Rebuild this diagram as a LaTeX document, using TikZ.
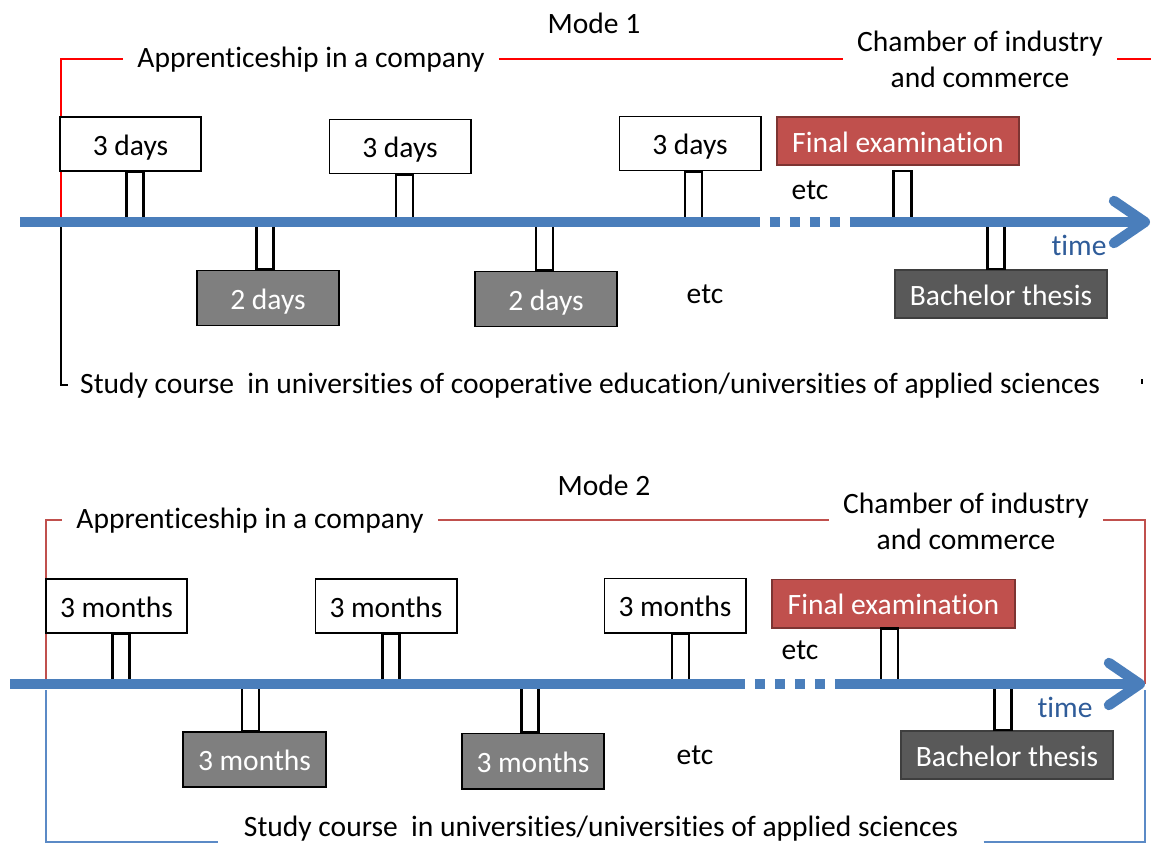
\documentclass[tikz,border=0pt]{standalone}
\usepackage{fontspec}
\setmainfont{Carlito}[Ligatures=NoCommon]
\usetikzlibrary{arrows.meta,calc}
\definecolor{tblue}{HTML}{4A7EBB}
\definecolor{lblue}{HTML}{5B8AC6}
\definecolor{exred}{HTML}{C0504D}
\definecolor{thgray}{HTML}{595959}
\definecolor{midgray}{HTML}{7F7F7F}
\definecolor{timeblue}{HTML}{2F5C99}

\begin{document}
\begin{tikzpicture}[x=0.025cm, y=-0.025cm, font=\fontsize{21}{25.5}\selectfont,
  box/.style={draw,line width=1.4pt,inner sep=0pt,text height=16pt,text depth=0pt},
  wbox/.style={box,fill=white,minimum width=3.525cm,minimum height=1.35cm},
  gbox/.style={box,fill=midgray,text=white,minimum width=3.55cm,minimum height=1.375cm},
  exbox/.style={box,draw=exred!65!black,fill=exred,text=white,minimum width=6.05cm,minimum height=1.2cm},
  thbox/.style={box,draw=thgray!70!black,fill=thgray,text=white,minimum width=5.3cm,minimum height=1.2cm},
  lbl/.style={inner xsep=10pt,inner ysep=2pt},
  stem/.style={draw,line width=1.5pt,fill=white},
  tline/.style={draw=tblue,line width=7.3pt},
  >={Straight Barb[length=22pt,width=30pt,round]}]
\useasboundingbox[fill=white] (0,0) rectangle (1151,843);
\clip (0,0) rectangle (1151,843);

% ---- mode 1 ----
\coordinate (tla) at (20,222);
\coordinate (tla1) at (760,222);
\coordinate (tla2) at (850,222);
\coordinate (tlaz) at (1150,222);
\coordinate (ra) at (61,222);
\coordinate (rz) at (1151,60);
\coordinate (km) at (1142,379);

\node[anchor=base] (mode1) at (594,33) {Mode 1};
\node[lbl,anchor=base] (app1) at (311,67) {Apprenticeship in a company};
\node[lbl,align=center] (ch1) at (980,59) {Chamber of industry\\and commerce};
\node[anchor=base] (etc1) at (810,199) {etc};
\node[anchor=base] (etc2) at (705,303) {etc};
\node[anchor=base,text=timeblue] (time1) at (1079,255) {time};
\node[lbl,anchor=base west,inner xsep=8.5pt] (study1) at (68,393) {Study course\ \ in universities of cooperative education/universities of applied sciences};

\draw[red,line width=1.5pt] (ra) |- (app1.west);
\draw[red,line width=1.5pt] (app1.east) -- (app1.east -| ch1.west);
\draw[red,line width=1.5pt] (app1.east -| ch1.east) -- (app1.east -| rz);
\draw[line width=1.4pt] (ra) |- (study1.west);
\draw[line width=1.4pt] (km) -- ++(0,5);

\node[wbox] (d1) at (130.5,144) {3 days};
\node[wbox] (d2) at (400,146.5) {3 days};
\node[wbox] (d3) at (690,143.5) {3 days};
\node[exbox] (ex1) at (898,141) {Final examination};
\node[gbox] (g1) at (268,298) {2 days};
\node[gbox] (g2) at (546,299) {2 days};
\node[thbox] (th1) at (1001,294) {Bachelor thesis};

\foreach \b/\dx in {d1/4.5,d2/4.5,d3/3.5}
  \draw[stem] ($(\b.south)+(\dx-8.5,0)$) rectangle ($(\b.south |- tla)+(\dx+8.5,0)$);
\draw[stem] ($(ex1.south)+(-4.5,5)$) rectangle ($(ex1.south |- tla)+(13.5,0)$);
\foreach \b/\dx in {g1/-3,g2/-1.5,th1/-5}
  \draw[stem] ($(\b.north)+(\dx-8.5,0)$) rectangle ($(\b.north |- tla)+(\dx+8.5,0)$);

\draw[tline] (tla) -- (tla1);
\draw[tline,dash pattern=on 7.1pt off 7.1pt,dash phase=7.1pt] (tla1) -- (tla2);
\draw[tline,->] (tla2) -- (tlaz);

% ---- mode 2 ----
\coordinate (tlb) at (10,684);
\coordinate (tlb1) at (745,684);
\coordinate (tlb2) at (837,684);
\coordinate (tlbz) at (1145,684);
\coordinate (ba) at (46,690);
\coordinate (bz) at (1145,690);
\coordinate (bl) at (0,842);

\node[anchor=base] (mode2) at (604,495) {Mode 2};
\node[lbl,anchor=base] (app2) at (250,528) {Apprenticeship in a company};
\node[lbl,align=center] (ch2) at (966,521) {Chamber of industry\\and commerce};
\node[anchor=base] (etc3) at (800,659) {etc};
\node[anchor=base] (etc4) at (695,764) {etc};
\node[anchor=base,text=timeblue] (time2) at (1065,717) {time};
\node[lbl,anchor=base,inner xsep=18pt] (study2) at (601,836) {Study course\ \ in universities/universities of applied sciences};

\draw[exred,line width=1.3pt] (tlb -| ba) |- (app2.west);
\draw[exred,line width=1.3pt] (app2.east) -- (app2.east -| ch2.west);
\draw[exred,line width=1.3pt] (app2.east -| ch2.east) -| (tlbz);
\draw[lblue,line width=1.3pt] (ba) |- (study2.west |- bl);
\draw[lblue,line width=1.3pt] (study2.east |- bl) -| (bz);

\node[wbox] (m1) at (116.5,606) {3 months};
\node[wbox] (m2) at (386,606) {3 months};
\node[wbox] (m3) at (675,605.5) {3 months};
\node[exbox] (ex2) at (893.5,603.5) {Final examination};
\node[gbox] (g3) at (254.5,759.5) {3 months};
\node[gbox] (g4) at (533,761) {3 months};
\node[thbox] (th2) at (1007,755) {Bachelor thesis};

\foreach \b/\dx in {m1/4.5,m2/5,m3/5.5,ex2/-4}
  \draw[stem] ($(\b.south)+(\dx-8.5,0)$) rectangle ($(\b.south |- tlb)+(\dx+8.5,0)$);
\foreach \b/\dx in {g3/-4,g4/-3,th2/-4}
  \draw[stem] ($(\b.north)+(\dx-8.5,0)$) rectangle ($(\b.north |- tlb)+(\dx+8.5,0)$);

\draw[tline] (tlb) -- (tlb1);
\draw[tline,dash pattern=on 7.1pt off 7.1pt,dash phase=7.1pt] (tlb1) -- (tlb2);
\draw[tline,->] (tlb2) -- (tlbz);
\end{tikzpicture}
\end{document}
